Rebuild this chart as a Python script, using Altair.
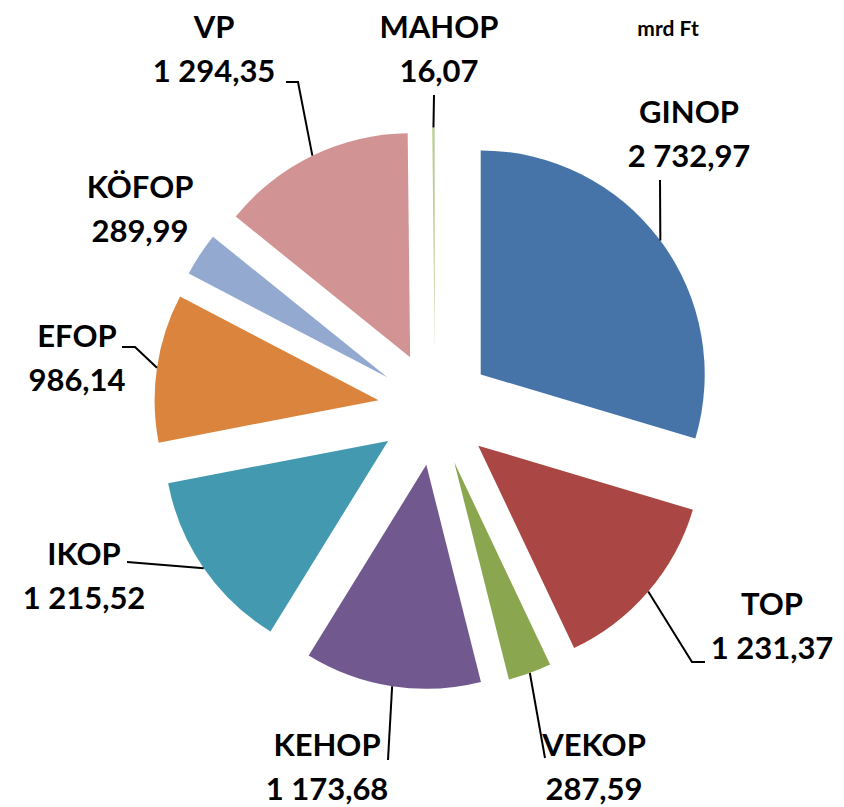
import math
import altair as alt
import pandas as pd

# ---------------- data ----------------
programs = ["GINOP", "TOP", "VEKOP", "KEHOP", "IKOP", "EFOP", "KÖFOP", "VP", "MAHOP"]
values = [2732.97, 1231.37, 287.59, 1173.68, 1215.52, 986.14, 289.99, 1294.35, 16.07]
colors = ["#4674A8", "#AA4744", "#8AA64E", "#71598F", "#4399AF",
          "#DB843D", "#94A9D0", "#D19393", "#BACD96"]
unit_label = "mrd Ft"

# ---------------- layout (chart pixel coordinates) ----------------
W, H = 828, 799
CX, CY = 427, 400.5      # pie centre
EXPLODE = 57             # radial offset of every slice
R = 224                  # slice radius
LINE_GAP = 44            # distance between the two label lines
FONT = "Lato"
FSIZE = 31

# label centre x and first-line baseline (page coords -> minus 8 margin)
label_layout = {
    "GINOP": (689, 123), "TOP": (772, 615), "VEKOP": (594, 756),
    "KEHOP": (327, 756), "IKOP": (84, 565), "EFOP": (77, 347),
    "KÖFOP": (140, 198), "VP": (214, 38), "MAHOP": (439, 38),
}
# extra leader-line points after the slice edge point (page coords)
leader_layout = {
    "GINOP": [(660, 180)],
    "TOP": [(692, 662), (705, 662)],
    "VEKOP": [(545, 758)],
    "KEHOP": [(388, 760)],
    "IKOP": [(127, 562)],
    "EFOP": [(135, 347), (122, 347)],
    "VP": [(298, 82), (286, 82)],
    "MAHOP": [(434, 95)],
}


def fmt(v):
    return f"{v:,.2f}".replace(",", " ").replace(".", ",")


df = pd.DataFrame({"program": programs, "value": values,
                   "order": list(range(len(programs)))})

color_scale = alt.Scale(domain=programs, range=colors)

arcs = (
    alt.Chart(df)
    .transform_joinaggregate(total="sum(value)")
    .transform_window(cum="sum(value)", sort=[alt.SortField("order")], frame=[None, 0])
    .transform_calculate(
        t0="2*PI*(datum.cum - datum.value)/datum.total",
        t1="2*PI*datum.cum/datum.total",
    )
    .transform_calculate(mid="(datum.t0 + datum.t1)/2")
    .transform_calculate(
        cx=f"{CX} + {EXPLODE}*sin(datum.mid)",
        cy=f"{CY} - {EXPLODE}*cos(datum.mid)",
    )
    .mark_arc(radius=R, stroke=None)
    .encode(
        theta=alt.Theta("t0:Q", scale=None),
        theta2=alt.Theta2("t1:Q"),
        x=alt.X("cx:Q", scale=None),
        y=alt.Y("cy:Q", scale=None),
        color=alt.Color("program:N", scale=color_scale, legend=None),
    )
)

# leader lines: start at the slice edge (middle angle), then layout points
total = sum(values)
cum = 0.0
rows = []
for p, v in zip(programs, values):
    mid = 2 * math.pi * (cum + v / 2) / total
    cum += v
    if p not in leader_layout:
        continue
    rows.append({"program": p, "seq": 0,
                 "x": CX + (EXPLODE + R) * math.sin(mid),
                 "y": CY - (EXPLODE + R) * math.cos(mid)})
    for i, (px, py) in enumerate(leader_layout[p], start=1):
        rows.append({"program": p, "seq": i, "x": px - 8, "y": py - 8})
leader_df = pd.DataFrame(rows)

leaders = (
    alt.Chart(leader_df)
    .mark_line(color="black", strokeWidth=2)
    .encode(
        x=alt.X("x:Q", scale=None),
        y=alt.Y("y:Q", scale=None),
        detail="program:N",
        order="seq:Q",
    )
)

lab_df = pd.DataFrame({
    "program": programs,
    "vtext": [fmt(v) for v in values],
    "lx": [label_layout[p][0] - 8 for p in programs],
    "ly": [label_layout[p][1] - 8 for p in programs],
})
lab_df["ly2"] = lab_df["ly"] + LINE_GAP

names = (
    alt.Chart(lab_df)
    .mark_text(font=FONT, fontSize=FSIZE, fontWeight="bold", color="black",
               align="center", baseline="alphabetic")
    .encode(x=alt.X("lx:Q", scale=None), y=alt.Y("ly:Q", scale=None), text="program:N")
)
vals = (
    alt.Chart(lab_df)
    .mark_text(font=FONT, fontSize=FSIZE, fontWeight="bold", color="black",
               align="center", baseline="alphabetic")
    .encode(x=alt.X("lx:Q", scale=None), y=alt.Y("ly2:Q", scale=None), text="vtext:N")
)

unit = (
    alt.Chart(pd.DataFrame({"t": [unit_label]}))
    .mark_text(font=FONT, fontSize=21, fontWeight="bold", color="black",
               align="center", baseline="alphabetic")
    .encode(x=alt.value(668 - 8), y=alt.value(36 - 8), text="t:N")
)

chart = (
    alt.layer(arcs, leaders, names, vals, unit)
    .properties(width=W, height=H, padding=0, autosize="none", background="white")
    .configure_view(stroke=None)
)

chart.save("out.html", embed_options={"renderer": "svg", "actions": False})
